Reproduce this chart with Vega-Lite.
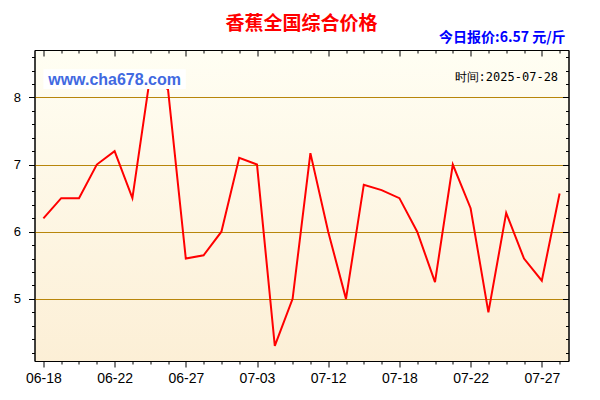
{
  "$schema": "https://vega.github.io/schema/vega-lite/v6.json",
  "width": 534,
  "height": 311,
  "autosize": {"type": "none"},
  "padding": {"left": 34.5, "top": 50, "right": 31.5, "bottom": 39},
  "background": "white",
  "title": {
    "text": "香蕉全国综合价格",
    "color": "#FF0000",
    "font": "Noto Sans CJK SC",
    "fontSize": 19,
    "fontWeight": "bold",
    "anchor": "middle",
    "frame": "group",
    "offset": -3
  },
  "config": {
    "view": {
      "stroke": "black",
      "strokeWidth": 1,
      "fill": {
        "gradient": "linear",
        "x1": 0, "y1": 0, "x2": 0, "y2": 1,
        "stops": [
          {"offset": 0, "color": "#FFFEF3"},
          {"offset": 1, "color": "#FCEFD6"}
        ]
      }
    }
  },
  "data": {
    "values": [
      {"date": "06-18", "price": 6.2},
      {"date": "06-19", "price": 6.5},
      {"date": "06-20", "price": 6.5},
      {"date": "06-21", "price": 7.0},
      {"date": "06-22", "price": 7.2},
      {"date": "06-23", "price": 6.5},
      {"date": "06-24", "price": 8.32},
      {"date": "06-25", "price": 8.12},
      {"date": "06-27", "price": 5.6},
      {"date": "06-28", "price": 5.65},
      {"date": "06-30", "price": 6.0},
      {"date": "07-01", "price": 7.1},
      {"date": "07-03", "price": 7.0},
      {"date": "07-05", "price": 4.3},
      {"date": "07-07", "price": 5.0},
      {"date": "07-09", "price": 7.17},
      {"date": "07-12", "price": 6.0},
      {"date": "07-14", "price": 5.0},
      {"date": "07-15", "price": 6.7},
      {"date": "07-16", "price": 6.62},
      {"date": "07-18", "price": 6.5},
      {"date": "07-19", "price": 6.0},
      {"date": "07-20", "price": 5.25},
      {"date": "07-21", "price": 7.0},
      {"date": "07-22", "price": 6.35},
      {"date": "07-23", "price": 4.8},
      {"date": "07-24", "price": 6.28},
      {"date": "07-25", "price": 5.6},
      {"date": "07-27", "price": 5.27},
      {"date": "07-28", "price": 6.57}
    ]
  },
  "layer": [
    {
      "mark": {"type": "line", "stroke": "#FF0000", "strokeWidth": 2, "clip": true},
      "encoding": {
        "x": {
          "field": "date",
          "type": "ordinal",
          "scale": {"type": "point", "padding": 0.5},
          "axis": {
            "orient": "bottom",
            "title": null,
            "labelAngle": 0,
            "labelFont": "Liberation Sans",
            "labelFontSize": 14,
            "labelColor": "black",
            "labelPadding": 4,
            "labelExpr": "indexof(['06-18','06-22','06-27','07-03','07-12','07-18','07-22','07-27'], datum.value) >= 0 ? datum.value : ''",
            "domainColor": "black",
            "tickColor": "black",
            "tickSize": {"condition": {"test": "indexof(['06-18','06-22','06-27','07-03','07-12','07-18','07-22','07-27'], datum.value) >= 0", "value": 6}, "value": 3},
            "grid": false
          }
        },
        "y": {
          "field": "price",
          "type": "quantitative",
          "scale": {"domain": [4.075, 8.706], "nice": false, "zero": false},
          "axis": {
            "orient": "left",
            "title": null,
            "values": [4.2, 4.4, 4.6, 4.8, 5, 5.2, 5.4, 5.6, 5.8, 6, 6.2, 6.4, 6.6, 6.8, 7, 7.2, 7.4, 7.6, 7.8, 8, 8.2, 8.4, 8.6],
            "labelExpr": "abs(datum.value - round(datum.value)) < 0.01 ? format(datum.value, 'd') : ''",
            "labelFont": "Liberation Sans",
            "labelFontSize": 13,
            "labelColor": "black",
            "labelPadding": 8,
            "domainColor": "black",
            "tickColor": "black",
            "tickSize": {"condition": {"test": "abs(datum.value - round(datum.value)) < 0.01", "value": 6}, "value": 3},
            "grid": true,
            "gridColor": "#B8860B",
            "gridWidth": 1,
            "gridOpacity": {"condition": {"test": "abs(datum.value - round(datum.value)) < 0.01", "value": 1}, "value": 0}
          }
        }
      }
    },
    {
      "mark": {"type": "line", "strokeOpacity": 0},
      "encoding": {
        "x": {
          "field": "date",
          "type": "ordinal",
          "axis": {
            "orient": "top",
            "title": null,
            "labels": false,
            "domainColor": "black",
            "tickColor": "black",
            "tickSize": {"condition": {"test": "indexof(['06-18','06-22','06-27','07-03','07-12','07-18','07-22','07-27'], datum.value) >= 0", "value": -6}, "value": -3},
            "grid": false
          }
        },
        "y": {
          "field": "price",
          "type": "quantitative",
          "axis": {
            "orient": "right",
            "title": null,
            "labels": false,
            "values": [4.2, 4.4, 4.6, 4.8, 5, 5.2, 5.4, 5.6, 5.8, 6, 6.2, 6.4, 6.6, 6.8, 7, 7.2, 7.4, 7.6, 7.8, 8, 8.2, 8.4, 8.6],
            "domainColor": "black",
            "tickColor": "black",
            "tickSize": {"condition": {"test": "abs(datum.value - round(datum.value)) < 0.01", "value": -6}, "value": -3},
            "grid": false
          }
        }
      }
    },
    {
      "data": {"values": [{"from": "06-18", "to": "06-27", "low": 8.124, "high": 8.42}]},
      "mark": {"type": "rect", "fill": "white", "fillOpacity": 1},
      "encoding": {
        "x": {"field": "from", "type": "ordinal", "axis": null},
        "x2": {"field": "to"},
        "y": {"field": "low", "type": "quantitative", "axis": null},
        "y2": {"field": "high"}
      }
    },
    {
      "data": {"values": [{"label": "www.cha678.com"}]},
      "mark": {"type": "text", "font": "Liberation Sans", "fontSize": 16, "fontWeight": "bold", "color": "#4169E1", "align": "center", "baseline": "middle"},
      "encoding": {
        "x": {"datum": "06-22", "type": "ordinal", "axis": null},
        "y": {"datum": 8.258, "type": "quantitative", "axis": null},
        "text": {"field": "label"}
      }
    },
    {
      "data": {"values": [{"label": "时间:2025-07-28"}]},
      "mark": {"type": "text", "font": "DejaVu Sans Mono", "fontSize": 12, "color": "black", "align": "right", "baseline": "middle", "dx": -1.5},
      "encoding": {
        "x": {"datum": "07-28", "type": "ordinal", "axis": null},
        "y": {"datum": 8.307, "type": "quantitative", "axis": null},
        "text": {"field": "label"}
      }
    },
    {
      "data": {"values": [{"label": "今日报价:6.57 元/斤"}]},
      "mark": {"type": "text", "font": "Noto Sans CJK SC", "fontSize": 14, "fontWeight": "bold", "color": "#0000FF", "align": "right", "baseline": "middle", "dx": 6},
      "encoding": {
        "x": {"datum": "07-28", "type": "ordinal", "axis": null},
        "y": {"datum": 8.885, "type": "quantitative", "axis": null},
        "text": {"field": "label"}
      }
    }
  ],
  "resolve": {"axis": {"x": "independent", "y": "independent"}}
}
